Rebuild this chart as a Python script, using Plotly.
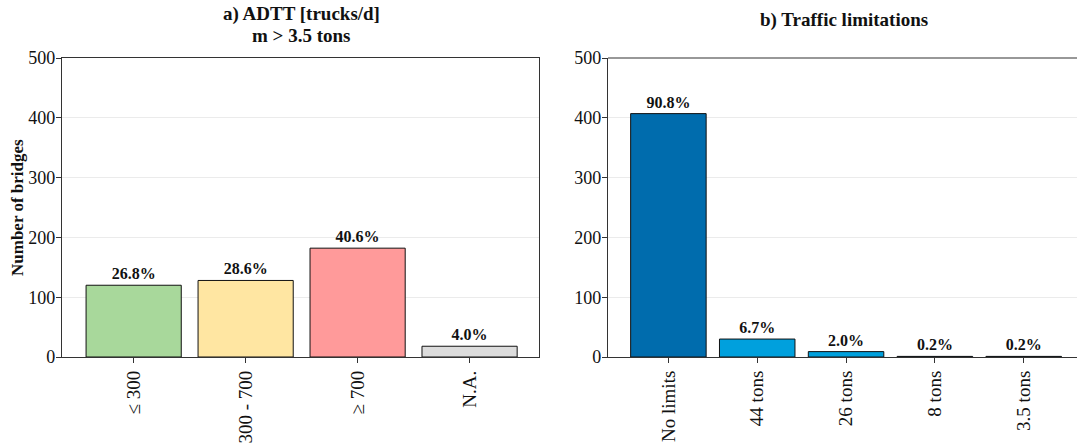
import plotly.graph_objects as go

# ADTT classes (heavy vehicles, m > 3.5 t)
adtt_classes = ["≤ 300", "300 - 700", "≥ 700", "N.A."]
adtt_counts = [120, 128, 182, 18]
adtt_colors = ["#a8d89b", "#ffe6a2", "#ff9a9a", "#dcdcdc"]

# Traffic limitations
limit_classes = ["No limits", "44 tons", "26 tons", "8 tons", "3.5 tons"]
limit_counts = [407, 30, 9, 1, 1]
limit_colors = ["#006cad", "#00a0dd", "#00a0dd", "#00a0dd", "#00a0dd"]

y_ticks = [0, 100, 200, 300, 400, 500]

W, H = 1077, 443
FONT = "Liberation Serif, Times New Roman, serif"
INK = "#111111"


def pct_labels(counts):
    total = sum(counts)
    return ["<b>%.1f%%</b>" % (100.0 * c / total) for c in counts]


fig = go.Figure()

fig.add_trace(go.Bar(
    x=adtt_classes, y=adtt_counts, text=pct_labels(adtt_counts),
    textposition="outside", cliponaxis=False,
    textfont=dict(family=FONT, size=16, color=INK),
    marker=dict(color=adtt_colors, line=dict(color=INK, width=1)),
    width=0.85, xaxis="x", yaxis="y", showlegend=False,
))

fig.add_trace(go.Bar(
    x=limit_classes, y=limit_counts, text=pct_labels(limit_counts),
    textposition="outside", cliponaxis=False,
    textfont=dict(family=FONT, size=16, color=INK),
    marker=dict(color=limit_colors, line=dict(color=INK, width=1)),
    width=0.85, xaxis="x2", yaxis="y2", showlegend=False,
))

y_dom = [(H - 357) / H, (H - 58) / H]

axis_common = dict(
    showline=True, linecolor="#333333", linewidth=1.2,
    ticks="outside", ticklen=5, tickcolor="#333333",
    tickfont=dict(family=FONT, size=19, color=INK),
    automargin=False,
)
y_common = dict(axis_common, tickfont=dict(family=FONT, size=18, color=INK),
                ticklabelstandoff=-3)

fig.update_layout(
    template="none",
    width=W, height=H,
    margin=dict(l=0, r=0, t=0, b=0, autoexpand=False),
    paper_bgcolor="white", plot_bgcolor="white",
    xaxis=dict(domain=[62 / W, 539 / W], range=[-0.64, 3.62],
               tickangle=-90, mirror=True, showgrid=False,
               anchor="y", **axis_common),
    yaxis=dict(domain=y_dom, range=[0, 500], tickvals=y_ticks,
               mirror=True, showgrid=True, gridcolor="#ebebeb", gridwidth=1,
               zeroline=False, anchor="x", **y_common),
    xaxis2=dict(domain=[608 / W, 1.0], range=[-0.68, 4.60],
                tickangle=-90, mirror=False, showgrid=False,
                anchor="y2", **axis_common),
    yaxis2=dict(domain=y_dom, range=[0, 500], tickvals=y_ticks,
                mirror=False, showgrid=True, gridcolor="#ebebeb", gridwidth=1,
                zeroline=False, anchor="x2", **y_common),
)

# top border of right panel
fig.add_shape(type="line", xref="paper", yref="paper",
              x0=608 / W, x1=1.0, y0=y_dom[1], y1=y_dom[1],
              line=dict(color="#333333", width=1.2))

title_font = dict(family=FONT, size=19, color=INK)
fig.add_annotation(text="<b>a) ADTT [trucks/d]</b>", xref="paper", yref="paper",
                   x=301 / W, y=(H - 14) / H, showarrow=False,
                   xanchor="center", yanchor="middle", font=title_font)
fig.add_annotation(text="<b>m > 3.5 tons</b>", xref="paper", yref="paper",
                   x=301 / W, y=(H - 35) / H, showarrow=False,
                   xanchor="center", yanchor="middle", font=title_font)
fig.add_annotation(text="<b>b) Traffic limitations</b>", xref="paper", yref="paper",
                   x=844 / W, y=(H - 20) / H, showarrow=False,
                   xanchor="center", yanchor="middle", font=title_font)
fig.add_annotation(text="<b>Number of bridges</b>", xref="paper", yref="paper",
                   x=17 / W, y=(H - 208) / H, showarrow=False, textangle=-90,
                   xanchor="center", yanchor="middle",
                   font=dict(family=FONT, size=17, color=INK))

fig.write_html("out.html")
